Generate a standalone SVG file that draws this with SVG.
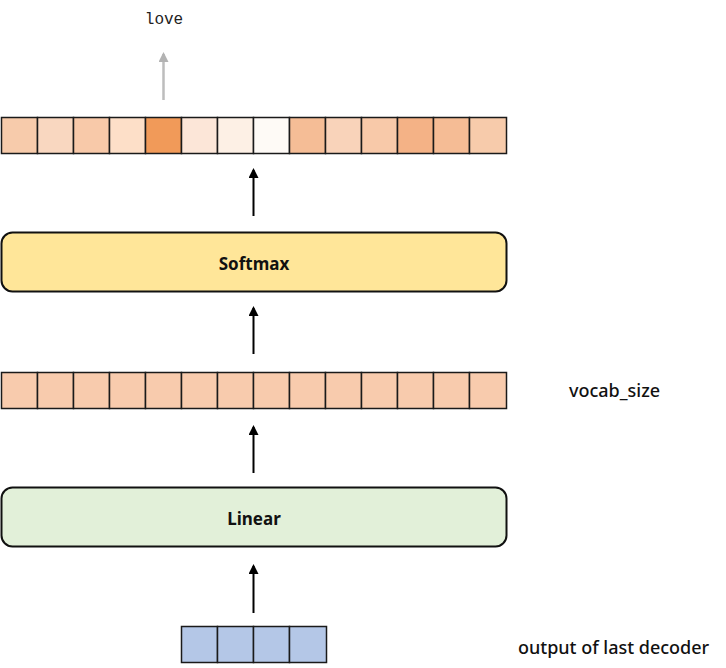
<svg xmlns="http://www.w3.org/2000/svg" width="726" height="668" viewBox="0 0 726 668">
<style>
.cell{stroke:#1a1a1a;stroke-width:1.5}
.box{stroke:#111;stroke-width:2}
.lbl{font-family:"Noto Sans","Liberation Sans",sans-serif;font-weight:bold;font-size:17px;fill:#111;text-anchor:middle;dominant-baseline:central}
.side{font-family:"Noto Sans","Liberation Sans",sans-serif;font-weight:500;font-size:18px;fill:#111;dominant-baseline:central}
.conn{stroke:#000;stroke-width:2;fill:none}
</style>
<defs>
<marker id="ah" markerWidth="10" markerHeight="10" refX="8" refY="5" orient="auto" markerUnits="userSpaceOnUse"><path d="M0,0 L10,5 L0,10 Z" fill="#000"/></marker>
<marker id="ahg" markerWidth="10" markerHeight="10" refX="8" refY="5" orient="auto" markerUnits="userSpaceOnUse"><path d="M0,0 L10,5 L0,10 Z" fill="#b3b3b3"/></marker>
</defs>
<rect width="726" height="668" fill="#fff"/>
<g id="love"><text x="164" y="20" font-family="'Liberation Mono','Noto Sans CJK SC',monospace" font-size="16" text-anchor="middle" dominant-baseline="central" fill="#222">love</text></g>
<g id="probs">
<rect class="cell" x="1.5" y="117.5" width="36" height="36" fill="#F7CBAB"/>
<rect class="cell" x="37.5" y="117.5" width="36" height="36" fill="#F9D7C0"/>
<rect class="cell" x="73.5" y="117.5" width="36" height="36" fill="#F8C9A9"/>
<rect class="cell" x="109.5" y="117.5" width="36" height="36" fill="#FDDFC8"/>
<rect class="cell" x="145.5" y="117.5" width="36" height="36" fill="#F19A59"/>
<rect class="cell" x="181.5" y="117.5" width="36" height="36" fill="#FCE6D8"/>
<rect class="cell" x="217.5" y="117.5" width="36" height="36" fill="#FDF0E5"/>
<rect class="cell" x="253.5" y="117.5" width="36" height="36" fill="#FEFAF6"/>
<rect class="cell" x="289.5" y="117.5" width="36" height="36" fill="#F5BD96"/>
<rect class="cell" x="325.5" y="117.5" width="36" height="36" fill="#F9D3BA"/>
<rect class="cell" x="361.5" y="117.5" width="36" height="36" fill="#F8C9A9"/>
<rect class="cell" x="397.5" y="117.5" width="36" height="36" fill="#F4B286"/>
<rect class="cell" x="433.5" y="117.5" width="36" height="36" fill="#F5BC95"/>
<rect class="cell" x="469.5" y="117.5" width="37" height="36" fill="#F7CBAB"/>
</g>
<g id="softmax">
<rect class="box" x="1.5" y="232.5" width="505" height="59" rx="11" fill="#FFE699"/>
<text class="lbl" x="254" y="263">Softmax</text>
</g>
<g id="logits">
<rect class="cell" x="1.5" y="372.5" width="36" height="36" fill="#F8CBAD"/>
<rect class="cell" x="37.5" y="372.5" width="36" height="36" fill="#F8CBAD"/>
<rect class="cell" x="73.5" y="372.5" width="36" height="36" fill="#F8CBAD"/>
<rect class="cell" x="109.5" y="372.5" width="36" height="36" fill="#F8CBAD"/>
<rect class="cell" x="145.5" y="372.5" width="36" height="36" fill="#F8CBAD"/>
<rect class="cell" x="181.5" y="372.5" width="36" height="36" fill="#F8CBAD"/>
<rect class="cell" x="217.5" y="372.5" width="36" height="36" fill="#F8CBAD"/>
<rect class="cell" x="253.5" y="372.5" width="36" height="36" fill="#F8CBAD"/>
<rect class="cell" x="289.5" y="372.5" width="36" height="36" fill="#F8CBAD"/>
<rect class="cell" x="325.5" y="372.5" width="36" height="36" fill="#F8CBAD"/>
<rect class="cell" x="361.5" y="372.5" width="36" height="36" fill="#F8CBAD"/>
<rect class="cell" x="397.5" y="372.5" width="36" height="36" fill="#F8CBAD"/>
<rect class="cell" x="433.5" y="372.5" width="36" height="36" fill="#F8CBAD"/>
<rect class="cell" x="469.5" y="372.5" width="37" height="36" fill="#F8CBAD"/>
<text class="side" x="569" y="390">vocab_size</text>
</g>
<g id="linear">
<rect class="box" x="1.5" y="487.5" width="505" height="59" rx="11" fill="#E2F0D9"/>
<text class="lbl" x="254" y="518">Linear</text>
</g>
<g id="decoder_out">
<rect class="cell" x="181.5" y="626.5" width="36" height="36" fill="#B4C7E7"/>
<rect class="cell" x="217.5" y="626.5" width="36" height="36" fill="#B4C7E7"/>
<rect class="cell" x="253.5" y="626.5" width="36" height="36" fill="#B4C7E7"/>
<rect class="cell" x="289.5" y="626.5" width="37" height="36" fill="#B4C7E7"/>
<text class="side" x="518" y="647">output of last decoder</text>
</g>
<g id="connectors">
<line x1="163.5" y1="100" x2="163.5" y2="54" stroke="#bdbdbd" stroke-width="2.5" marker-end="url(#ahg)"/>
<line class="conn" x1="253.5" y1="216" x2="253.5" y2="170" marker-end="url(#ah)"/>
<line class="conn" x1="253.5" y1="354" x2="253.5" y2="308" marker-end="url(#ah)"/>
<line class="conn" x1="253.5" y1="473" x2="253.5" y2="427" marker-end="url(#ah)"/>
<line class="conn" x1="253.5" y1="613" x2="253.5" y2="566" marker-end="url(#ah)"/>
</g>
</svg>
